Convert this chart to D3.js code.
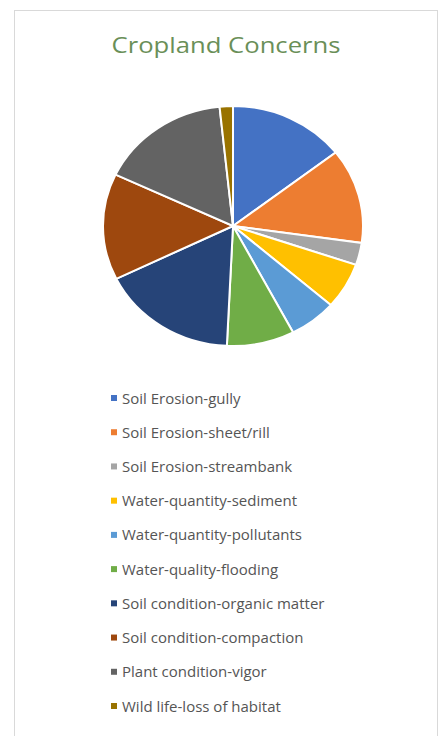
<!DOCTYPE html>
<html>
<head>
<meta charset="utf-8">
<script src="https://cdn.jsdelivr.net/npm/d3@7"></script>
<style>
html,body{margin:0;padding:0;background:#fff;}
svg{display:block;}
</style>
</head>
<body>
<svg id="chart" width="443" height="736"></svg>
<script>
const title = "Cropland Concerns";
const categories = [
  "Soil Erosion-gully",
  "Soil Erosion-sheet/rill",
  "Soil Erosion-streambank",
  "Water-quantity-sediment",
  "Water-quantity-pollutants",
  "Water-quality-flooding",
  "Soil condition-organic matter",
  "Soil condition-compaction",
  "Plant condition-vigor",
  "Wild life-loss of habitat"
];
const values = [14.5, 12.75, 3.0, 6.2, 5.9, 8.4, 17.0, 14.3, 16.3, 1.65];
const colors = ["#4472C4","#ED7D31","#A5A5A5","#FFC000","#5B9BD5","#70AD47","#264478","#9E480E","#636363","#997300"];

const svg = d3.select("#chart");
svg.append("rect").attr("x",14.5).attr("y",10.5).attr("width",423).attr("height",740)
  .attr("fill","#fff").attr("stroke","#d9d9d9").attr("stroke-width",1);

svg.append("text").attr("x",226).attr("y",53).attr("text-anchor","middle")
  .attr("font-family","Open Sans, sans-serif").attr("font-size",22)
  .attr("fill","#6A8F58").attr("textLength",229).attr("lengthAdjust","spacingAndGlyphs")
  .text(title);

const ry = 120, rx = 130;
const pie = d3.pie().sort(null).value(d => d);
const arc = d3.arc().innerRadius(0).outerRadius(ry);
const g = svg.append("g").attr("transform", `translate(233,226) scale(${rx/ry},1)`);
g.selectAll("path").data(pie(values)).join("path")
  .attr("d", arc)
  .attr("fill", (d,i) => colors[i])
  .attr("stroke", "#fff").attr("stroke-width", 2)
  .attr("vector-effect","non-scaling-stroke");

const y = d3.scalePoint().domain(categories).range([398, 706]);
const leg = svg.append("g");
const items = leg.selectAll("g").data(categories).join("g")
  .attr("transform", d => `translate(0,${y(d)})`);
items.append("rect").attr("x",111).attr("y",-3).attr("width",6).attr("height",6)
  .attr("fill",(d,i)=>colors[i]);
items.append("text").attr("x",122).attr("y",5.5)
  .attr("font-family","Open Sans, sans-serif").attr("font-size",15)
  .attr("fill","#555").text(d=>d);
</script>
</body>
</html>
